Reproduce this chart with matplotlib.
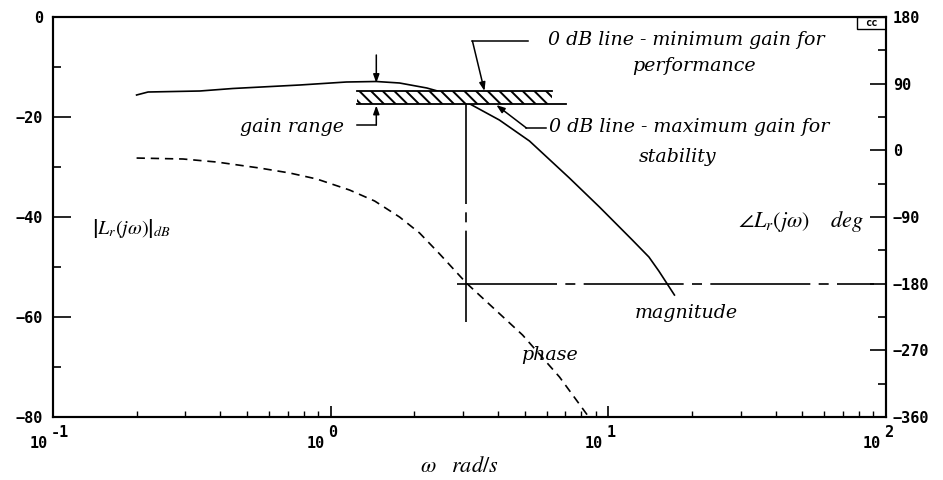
import matplotlib
matplotlib.use("Agg")
import matplotlib.pyplot as plt
from matplotlib.patches import Rectangle
from matplotlib.ticker import FixedLocator, NullFormatter

# ---------------- data ----------------
omega_mag = [0.200, 0.220, 0.338, 0.444, 0.774, 1.14, 1.46, 1.77, 2.22, 2.61,
             3.08, 4.05, 5.20, 7.24, 9.29, 12.2, 14.0, 15.2, 17.3]
mag_db = [-15.6, -15.0, -14.8, -14.3, -13.6, -13.0, -12.9, -13.2, -14.2, -15.3,
          -17.0, -20.6, -24.8, -32.2, -38.0, -44.6, -48.0, -50.8, -55.6]

omega_phase = [0.200, 0.294, 0.389, 0.555, 0.712, 0.891, 1.17, 1.44, 1.77, 2.09,
               2.47, 3.08, 3.89, 4.91, 6.67, 8.40]
phase_deg = [-10.4, -11.7, -15.8, -23.9, -30.6, -38.7, -53.6, -68.4, -90.0, -111.6,
             -140.0, -179.1, -214.2, -249.3, -306.0, -357.3]

# gain band (0 dB lines) in dB and its frequency extent
band_top_db = -14.8          # 0 dB line - minimum gain for performance
band_bot_db = -17.4          # 0 dB line - maximum gain for stability
band_omega = [1.24, 6.29]
band_bot_omega_end = 7.06

# phase crossover
omega_pc = 3.08
pc_mag_low = -61.0
phase_ref = -180.0
phase_ref_omega = [2.84, 90.6]

# gain-range marker
gr_omega = 1.46

mag_ticks = [0, -20, -40, -60, -80]
mag_minor = [-10, -30, -50, -70]
phase_ticks = [180, 90, 0, -90, -180, -270, -360]
phase_minor = [135, 45, -45, -135, -225, -315]
x_decades = [0.1, 1, 10, 100]
x_exps = ["-1", "0", "1", "2"]

# ---------------- styling ----------------
DPI = 70                 # hatch spacing scales with dpi; 70 dpi gives the reference's spacing
K = 100 / DPI            # keep every point-sized element at the same pixel size as at 100 dpi

plt.rcParams["mathtext.fontset"] = "stix"
plt.rcParams["hatch.linewidth"] = 1.4 * K
tick_font = dict(family="DejaVu Sans Mono", weight="bold", size=11 * K)
ann_font = dict(family="DejaVu Serif", style="italic", size=13.7 * K)

fig = plt.figure(figsize=(943 / DPI, 480 / DPI), dpi=DPI)
ax = fig.add_axes([53 / 943, 1 - 417 / 480, 833 / 943, 400 / 480])
ax.set_xscale("log")
ax.set_xlim(0.1, 100)
ax.set_ylim(-80, 0)
ax2 = ax.twinx()
ax2.set_ylim(-360, 180)

for a in (ax, ax2):
    for s in a.spines.values():
        s.set_linewidth(1.5 * K)

# ticks
ax.yaxis.set_major_locator(FixedLocator(mag_ticks))
ax.yaxis.set_minor_locator(FixedLocator(mag_minor))
ax.yaxis.set_minor_formatter(NullFormatter())
ax.tick_params(axis="y", which="major", direction="in", length=13 * K, width=1.2 * K, pad=7 * K,
               left=True, right=False)
ax.tick_params(axis="y", which="minor", direction="in", length=6 * K, width=1.2 * K, left=True, right=False)
for lbl in ax.get_yticklabels():
    lbl.set_fontfamily(tick_font["family"]); lbl.set_fontweight("bold"); lbl.set_fontsize(tick_font["size"])

ax2.yaxis.set_major_locator(FixedLocator(phase_ticks))
ax2.yaxis.set_minor_locator(FixedLocator(phase_minor))
ax2.yaxis.set_minor_formatter(NullFormatter())
ax2.tick_params(axis="y", which="major", direction="in", length=11.5 * K, width=1.2 * K, pad=5 * K)
ax2.tick_params(axis="y", which="minor", direction="in", length=6 * K, width=1.2 * K)
for lbl in ax2.get_yticklabels():
    lbl.set_fontfamily(tick_font["family"]); lbl.set_fontweight("bold"); lbl.set_fontsize(tick_font["size"])

ax.xaxis.set_major_locator(FixedLocator(x_decades))
ax.tick_params(axis="x", which="major", direction="in", length=8 * K, width=1.2 * K,
               labelbottom=False, top=False)
ax.tick_params(axis="x", which="minor", direction="in", length=4 * K, width=1.0 * K, top=False)
for t, e in zip(x_decades, x_exps):
    ax.annotate("10", xy=(t, 0), xycoords=("data", "axes fraction"),
                xytext=(-4 * K, -19 * K), textcoords="offset points", ha="right", va="center", **tick_font)
    ax.annotate(e, xy=(t, 0), xycoords=("data", "axes fraction"),
                xytext=(-1.5 * K, -11 * K), textcoords="offset points", ha="left", va="center", **tick_font)

# ---------------- curves ----------------
LW = 1.2 * K
ax.plot(omega_mag, mag_db, color="black", lw=LW)
ax2.plot(omega_phase, phase_deg, color="black", lw=LW, linestyle=(0, (5, 3.5)))

# gain band
ax.fill_between(band_omega, band_bot_db, band_top_db, facecolor="white", edgecolor="black",
                hatch="\\\\", linewidth=0, zorder=2)
ax.plot(band_omega, [band_top_db, band_top_db], color="black", lw=1.3 * K, zorder=3)
ax.plot([band_omega[0], band_bot_omega_end], [band_bot_db, band_bot_db], color="black",
        lw=1.3 * K, zorder=3)

# phase-crossover construction lines
dashdot = (0, (60, 5, 6, 5))
ax.plot([omega_pc, omega_pc], [band_bot_db, pc_mag_low], color="black", lw=LW, linestyle=dashdot)
ax2.plot(phase_ref_omega, [phase_ref, phase_ref], color="black", lw=LW, linestyle=dashdot)

# gain-range arrows
arrow_kw = dict(arrowstyle="-|>,head_length=0.5,head_width=0.18", color="black", lw=1.1 * K,
                shrinkA=0, shrinkB=0, mutation_scale=10 * K)
thin = 1.1 * K
ax.annotate("", xy=(gr_omega, -13.2), xytext=(gr_omega, -7.6), arrowprops=arrow_kw)
ax.annotate("", xy=(gr_omega, -17.7), xytext=(gr_omega, -21.6), arrowprops=arrow_kw)
ax.plot([1.24, gr_omega], [-21.6, -21.6], color="black", lw=thin)
ax.text(1.12, -22.0, "gain range", ha="right", va="center", **ann_font)

# leader for "minimum gain" label
ax.plot([5.12, 3.24], [-4.8, -4.8], color="black", lw=thin)
ax.annotate("", xy=(3.58, band_top_db), xytext=(3.24, -4.8), arrowprops=arrow_kw)
ax.text(6.04, -4.6, "0 dB line - minimum gain for", ha="left", va="center", **ann_font)
ax.text(20.4, -9.8, "performance", ha="center", va="center", **ann_font)

# leader for "maximum gain" label
ax.plot([5.98, 5.07], [-22.2, -22.2], color="black", lw=thin)
ax.annotate("", xy=(3.95, band_bot_db - 0.2), xytext=(5.07, -22.2), arrowprops=arrow_kw)
ax.text(6.10, -22.0, "0 dB line - maximum gain for", ha="left", va="center", **ann_font)
ax.text(12.9, -28.0, "stability", ha="left", va="center", **ann_font)

# curve labels
ax.text(19.1, -59.2, "magnitude", ha="center", va="center", **ann_font)
ax.text(6.14, -67.6, "phase", ha="center", va="center", **ann_font)
ax.text(0.138, -42.4, r"$\left|L_r(j\omega)\right|_{dB}$", ha="left", va="center", fontsize=14.5 * K)
ax.text(83.4, -41.0, r"$\angle L_r(j\omega)\ \ \ \ deg$", ha="right", va="center", fontsize=16 * K)
ax.text(2.91, -0.1225, r"$\omega\ \ \ rad/s$", transform=ax.get_xaxis_transform(),
        ha="center", va="center", fontsize=16 * K)

# "cc" box in the top-right corner
box_w, box_h = 29 / 833, 12 / 400
ax.add_patch(Rectangle((1 - box_w, 1 - box_h), box_w, box_h, transform=ax.transAxes,
                       facecolor="white", edgecolor="black", lw=1.0 * K, zorder=5))
ax.text(1 - box_w / 2, 1 - box_h / 2, "cc", transform=ax.transAxes, ha="center", va="center",
        family="DejaVu Sans Mono", weight="bold", fontsize=7.5 * K, zorder=6)

fig.savefig("out.png", dpi=DPI, facecolor="white")
